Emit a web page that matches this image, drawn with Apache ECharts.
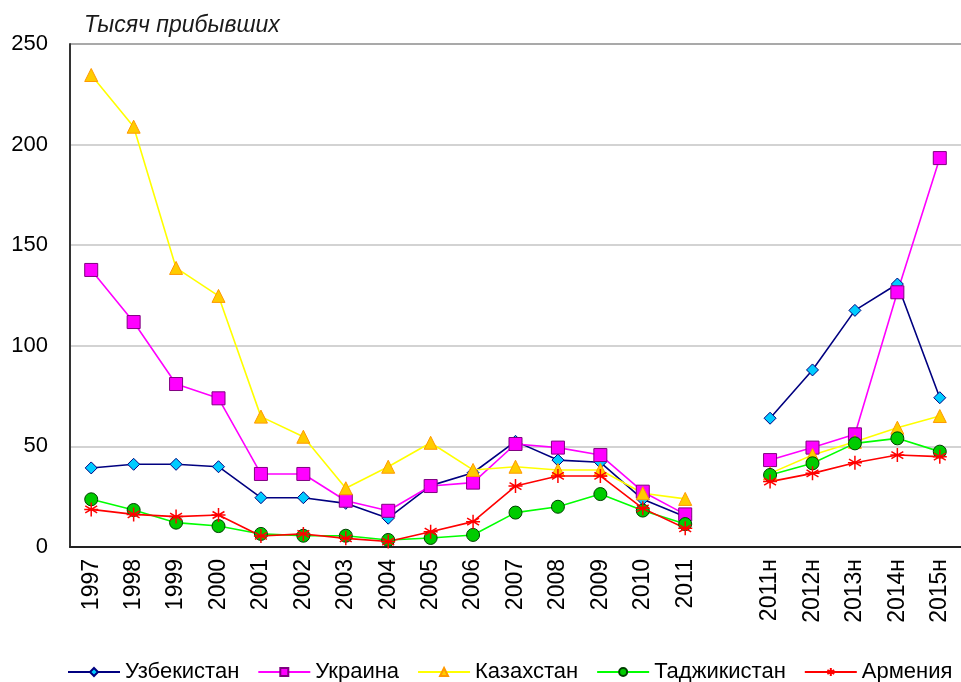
<!DOCTYPE html>
<html><head><meta charset="utf-8">
<script src="https://cdn.jsdelivr.net/npm/echarts@6/dist/echarts.min.js"></script>
<style>html,body{margin:0;padding:0;background:#fff}#c{width:961px;height:682px}</style>
</head><body><div id="c"></div>
<script>
const categories = ['1997','1998','1999','2000','2001','2002','2003','2004','2005','2006','2007','2008','2009','2010','2011','','2011н','2012н','2013н','2014н','2015н'];
const uzbekistan = [39.3,41.1,41.1,39.9,24.5,24.5,21.7,14.3,30.5,36.9,52.5,43.2,42.1,23.7,15,null,64,88,117.6,130.7,74.2];
const ukraine    = [137.7,111.8,81,73.9,36.3,36.3,23,18,30.3,32,51.2,49.4,45.7,27.5,16.2,null,43.2,49.4,56,126.6,193.3];
const kazakhstan = [234.6,208.9,138.7,124.8,64.8,54.8,29.2,39.9,51.8,38.3,39.9,38.3,38.3,26.7,23.9,null,36.6,45.7,52.3,59.3,65.1];
const tajikistan = [23.7,18.4,12.1,10.4,6.5,5.6,5.6,3.5,4.5,6,17.1,20,26.3,18.1,11.4,null,35.8,41.6,51.5,54,47.4];
const armenia    = [18.7,16.2,15.1,15.9,5.5,6.5,4.3,2.7,7.6,12.6,30.3,35.3,35.3,19.2,9.3,null,32.5,36.6,41.9,45.7,44.9];
const seriesNames = ['Узбекистан','Украина','Казахстан','Таджикистан','Армения'];
const yTicks = [0,50,100,150,200,250];

const FONT = 'Liberation Sans, Arial, sans-serif';
const star = 'path://M10,0 L10,20 M1.5,5 L18.5,15 M18.5,5 L1.5,15 M0,10 L20,10';

function mk(name, data, lineColor, symbol, size, fill, border, bw) {
  return {
    name, type: 'line', data, connectNulls: false,
    symbol, symbolSize: size, showAllSymbol: true,
    lineStyle: {color: lineColor, width: 1.6},
    itemStyle: {color: fill, borderColor: border, borderWidth: bw},
    emphasis: {disabled: true}, animation: false
  };
}

const chart = echarts.init(document.getElementById('c'));
chart.setOption({
  backgroundColor: '#fff',
  animation: false,
  title: {text: 'Тысяч прибывших', left: 79, top: 9,
    textStyle: {fontFamily: FONT, fontStyle: 'italic', fontWeight: 'normal', fontSize: 23, color: '#1a1a1a'}},
  grid: {left: 70, right: -10, top: 44, bottom: 135, containLabel: false},
  xAxis: {
    type: 'category', data: categories, boundaryGap: true,
    axisLine: {lineStyle: {color: '#222', width: 2}},
    axisTick: {show: false},
    axisLabel: {rotate: 90, interval: 0, margin: 12, fontFamily: FONT, fontSize: 23, color: '#000'}
  },
  yAxis: {
    type: 'value', min: yTicks[0], max: yTicks[yTicks.length-1], interval: 50,
    axisLine: {show: true, lineStyle: {color: '#333', width: 2}},
    axisTick: {show: false},
    axisLabel: {margin: 22, fontFamily: FONT, fontSize: 22, color: '#000'},
    splitLine: {lineStyle: {color: ['#c4c4c4','#c4c4c4','#c4c4c4','#c4c4c4','#c4c4c4','#8c8c8c'], width: 1.5}}
  },
  legend: {
    top: 656, left: 62, width: 960, itemWidth: 52, itemHeight: 10, itemGap: 18,
    textStyle: {fontFamily: FONT, fontSize: 22, color: '#000'},
    data: seriesNames
  },
  series: [
    mk(seriesNames[0], uzbekistan, '#000080', 'diamond', 12, '#00ccff', '#000080', 1),
    mk(seriesNames[1], ukraine, '#ff00ff', 'rect', 13, '#ff00ff', '#800080', 1),
    mk(seriesNames[2], kazakhstan, '#ffff00', 'triangle', 13, '#ffcc00', '#ff9900', 1),
    mk(seriesNames[3], tajikistan, '#00ff00', 'circle', 13, '#00cc00', '#004000', 1),
    mk(seriesNames[4], armenia, '#ff0000', star, 14, 'rgba(0,0,0,0)', '#ff0000', 1.5)
  ]
});
</script></body></html>
